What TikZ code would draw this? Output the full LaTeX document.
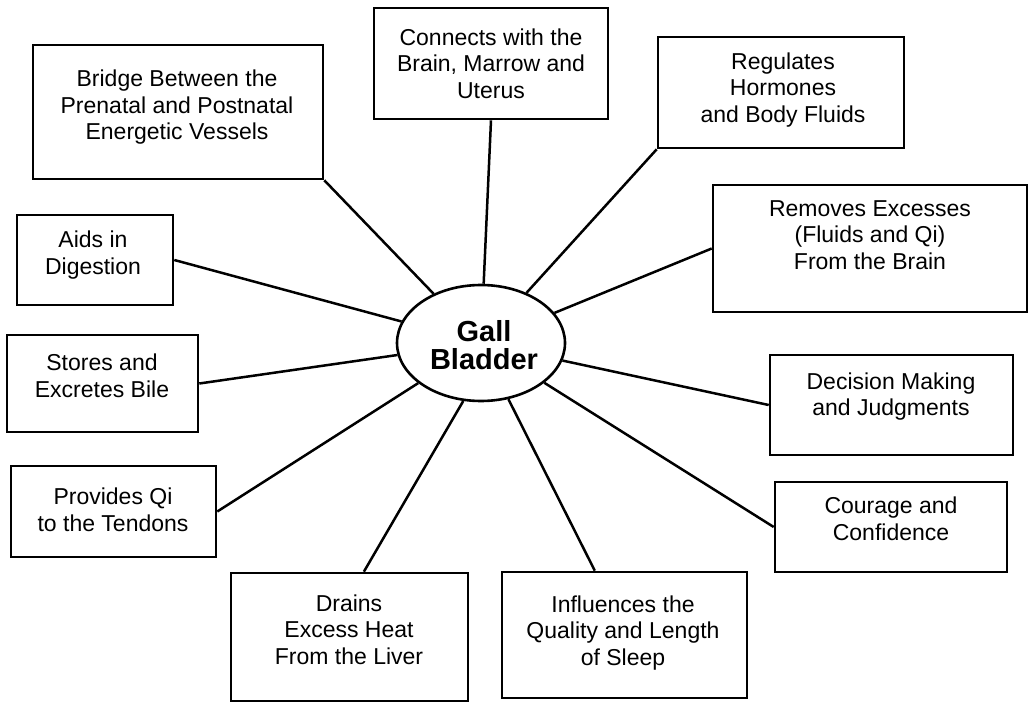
\documentclass[tikz,border=0pt]{standalone}
\usepackage{fontspec}
\setmainfont{Liberation Sans}
\usetikzlibrary{shapes.geometric,calc}
\begin{document}
\begin{tikzpicture}[x=1pt,y=-1pt,
  box/.style={draw, line width=2.6pt, inner sep=0pt},
  lbl/.style={align=center, inner sep=0pt, font=\fontsize{23}{26.5}\selectfont},
  hub/.style={draw, ellipse, line width=2.6pt, inner sep=0pt,
    minimum width=168pt, minimum height=116pt},
  spoke/.style={line width=2.5pt}]
\fill[white] (0,0) rectangle (1030,703);
\useasboundingbox (0,0) rectangle (1030,703);

% central ellipse
\node[hub] (gb) at (481,343) {};
\node[align=center, inner sep=0pt, font=\fontsize{29}{28}\selectfont\bfseries] (gbt) at (484,345) {Gall\\Bladder};

% surrounding boxes (centre, width, height)
\node[box, minimum width=234pt, minimum height=111pt] (b1) at (491,63.5) {};
\node[box, minimum width=290pt, minimum height=134pt] (b2) at (178,112) {};
\node[box, minimum width=246pt, minimum height=111pt] (b3) at (781,92.5) {};
\node[box, minimum width=314pt, minimum height=127pt] (b4) at (870,248.5) {};
\node[box, minimum width=156pt, minimum height=90pt] (b5) at (95,260) {};
\node[box, minimum width=191pt, minimum height=97pt] (b6) at (102.5,383.5) {};
\node[box, minimum width=205pt, minimum height=91pt] (b7) at (113.5,511.5) {};
\node[box, minimum width=243pt, minimum height=100pt] (b8) at (891.5,405) {};
\node[box, minimum width=232pt, minimum height=90pt] (b9) at (891,527) {};
\node[box, minimum width=237pt, minimum height=128pt] (b10) at (349.5,637) {};
\node[box, minimum width=245pt, minimum height=126pt] (b11) at (624.5,635) {};

% box texts
\node[lbl] (t1) at (491,63.5) {Connects with the\\Brain, Marrow and\\Uterus};
\node[lbl] (t2) at (177,107.5) {Bridge Between the\\Prenatal and Postnatal\\Energetic Vessels};
\node[lbl] (t3) at (783,90) {Regulates\\Hormones\\and Body Fluids};
\node[lbl] (t4) at (870,235) {Removes Excesses\\(Fluids and Qi)\\From the Brain};
\node[lbl] (t5) at (93,255) {Aids in\\Digestion};
\node[lbl] (t6) at (102,376) {Stores and\\Excretes Bile};
\node[lbl] (t7) at (113,510) {Provides Qi\\to the Tendons};
\node[lbl] (t8) at (891,396.5) {Decision Making\\and Judgments};
\node[lbl] (t9) at (891,519) {Courage and\\Confidence};
\node[lbl] (t10) at (349,629.5) {Drains\\Excess Heat\\From the Liver};
\node[lbl] (t11) at (623,633) {Influences the\\Quality and Length\\of Sleep};

% spokes from each box to the ellipse
\draw[spoke] (b1.south) -- (gb);
\draw[spoke] (b2.south east) -- (gb);
\draw[spoke] (b3.south west) -- (gb);
\draw[spoke] (b4.west) -- (gb);
\draw[spoke] (b5.east) -- (gb);
\draw[spoke] (b6.east) -- (gb);
\draw[spoke] (b7.east) -- (gb);
\draw[spoke] (b8.west) -- (gb);
\draw[spoke] (b9.west) -- (gb);
\draw[spoke] ($(b10.north west)!0.56!(b10.north east)$) -- (gb.253);
\draw[spoke] ($(b11.north west)!0.38!(b11.north east)$) -- (gb.296);
\end{tikzpicture}
\end{document}
